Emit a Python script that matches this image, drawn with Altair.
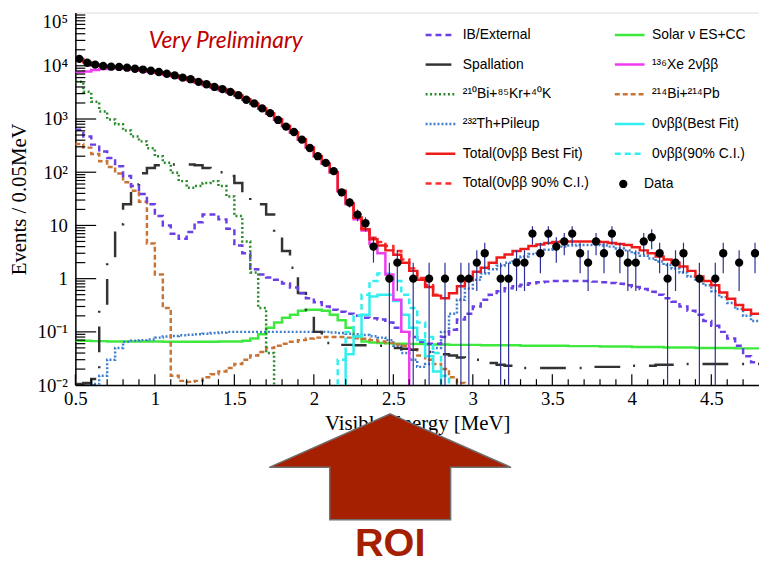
import math
import altair as alt
import pandas as pd

# ---------------------------------------------------------------- data
BIN = 0.05          # MeV per histogram bin
E_MIN, E_MAX = 0.5, 4.8
TINY = 1e-4         # used for drops to the bottom of the log axis

# observed counts per 0.05 MeV bin, bins starting at 0.50 MeV (0 = empty)
data_counts = [13500, 11400, 10500, 9900, 9600, 9500, 9200, 8800, 8500, 8070,
               7640, 7080, 6600, 6000, 5590, 5000, 4500, 4000, 3650, 3240,
               2800, 2300, 1960, 1580, 1290, 960, 720, 570, 410, 285,
               200, 150, 105, 42, 27, 16, 11, 4, 0, 1,
               2, 0, 1, 0, 1, 0, 1, 0, 1, 1,
               2, 3, 0, 1, 1, 2, 2, 7, 3, 7,
               4, 5, 7, 3, 2, 5, 3, 7, 3, 2,
               2, 5, 6, 3, 1, 2, 3, 0, 1, 0,
               1, 3, 0, 2, 0, 3]

total_best = [13400, 11600, 10600, 10000, 9700, 9500, 9200, 8850, 8500, 8100,
              7650, 7100, 6600, 6050, 5550, 5000, 4500, 4050, 3650, 3250,
              2800, 2350, 1950, 1580, 1270, 980, 740, 560, 410, 290,
              200, 145, 100, 45, 26, 14, 8.5, 5.5, 4.2, 3.4,
              2.8, 2.0, 1.4, 0.95, 0.7, 0.48, 0.43, 0.53, 0.72, 0.95,
              1.35, 1.6, 2.0, 2.5, 2.85, 3.3, 3.6, 4.1, 4.4, 4.7,
              4.9, 5.0, 5.0, 5.0, 5.0, 5.0, 4.9, 4.7, 4.5, 4.3,
              3.9, 3.4, 3.0, 2.6, 2.3, 2.0, 1.7, 1.4, 1.1, 0.9,
              0.75, 0.55, 0.42, 0.32, 0.26, 0.22]

total_ci90 = [26.1, 14.1, 8.8, 5.9, 4.9, 4.1, 3.3, 2.3, 1.56, 1.03, 0.75, 0.5]   # from 2.20

xe2nbb = [7600, 7800, 8300, 8700, 8900, 9000, 8800, 8500, 8100, 7700,
          7300, 6800, 6350, 5850, 5350, 4800, 4300, 3870, 3480, 3120,
          2720, 2300, 1920, 1550, 1250, 970, 735, 558, 409, 290,
          200, 145, 100, 44, 25, 13, 8, 4.5, 3.0, 1.2,
          0.4, 0.1]                                                     # from 0.50

nbb0_best = [0.038, 0.082, 0.21, 0.46, 0.5, 0.5, 0.38, 0.21, 0.12, 0.07, 0.035, 0.018]   # from 2.20
nbb0_ci90 = [0.03, 0.1, 0.2, 0.5, 0.9, 1.25, 1.25, 0.9, 0.5, 0.28, 0.15, 0.08, 0.04, 0.015]  # from 2.15

ib_external = [630, 470, 330, 245, 185, 130, 85, 55, 39, 25,
               15, 10, 7, 5.6, 7.5, 11.5, 16, 16, 13, 8.7,
               4.2, 3.0, 1.5, 1.2, 1.05, 0.95, 0.81, 0.68, 0.53, 0.43,
               0.36, 0.3, 0.26, 0.24, 0.22, 0.2, 0.185, 0.18, 0.17, 0.15,
               0.12, 0.1, 0.08, 0.065, 0.06, 0.06, 0.08, 0.11, 0.17, 0.22,
               0.3, 0.4, 0.5, 0.58, 0.66, 0.72, 0.77, 0.82, 0.86, 0.88,
               0.9, 0.9, 0.9, 0.9, 0.9, 0.88, 0.86, 0.83, 0.8, 0.75,
               0.7, 0.64, 0.57, 0.5, 0.43, 0.37, 0.3, 0.25, 0.21, 0.16,
               0.13, 0.1, 0.075, 0.055, 0.035, 0.027]

bi_kr_k = [5000, 3240, 2100, 1390, 980, 800, 610, 470, 380, 283,
           200, 150, 98, 68, 51, 55, 63, 68, 55, 35,
           15, 5, 1.3, 0.28, 0.04]                                      # from 0.50

bi_pb = [340, 290, 220, 160, 125, 95, 65, 45, 28, 4.6,
         1.2, 0.28, 0.015, 0.012, 0.0115, 0.012, 0.014, 0.016, 0.018, 0.021,
         0.025, 0.03, 0.036, 0.042, 0.05, 0.055, 0.06, 0.065, 0.07, 0.075,
         0.078, 0.08, 0.08, 0.08, 0.078, 0.076, 0.074, 0.07, 0.066, 0.062,
         0.058, 0.055, 0.047, 0.036, 0.03, 0.025, 0.02, 0.014, 0.011]    # from 0.50

th_pileup = [0.0105, 0.015, 0.03, 0.05, 0.065, 0.068, 0.07, 0.072, 0.078, 0.082,
             0.084, 0.086, 0.088, 0.09, 0.092, 0.095, 0.097, 0.1, 0.1, 0.1,
             0.1, 0.1, 0.1, 0.1, 0.1, 0.1, 0.1, 0.1, 0.1, 0.1,
             0.097, 0.095, 0.092, 0.09, 0.087, 0.083, 0.078, 0.07, 0.055, 0.04,
             0.03, 0.022, 0.025, 0.05, 0.1, 0.22, 0.4, 0.65, 0.95, 1.25,
             1.5, 1.75, 2.0, 2.3, 2.6, 2.9, 3.2, 3.5, 3.8, 4.0,
             4.2, 4.3, 4.3, 4.3, 4.2, 4.0, 3.7, 3.4, 3.0, 2.7,
             2.4, 2.1, 1.8, 1.55, 1.3, 1.1, 0.9, 0.75, 0.58, 0.45,
             0.35, 0.27, 0.2, 0.16]                                       # from 0.60

solar = [0.068, 0.068, 0.067, 0.067, 0.066, 0.066, 0.066, 0.066, 0.066, 0.066,
         0.066, 0.065, 0.065, 0.065, 0.065, 0.065, 0.065, 0.065, 0.066, 0.066,
         0.066, 0.068, 0.075, 0.09, 0.12, 0.15, 0.185, 0.21, 0.25, 0.26,
         0.26, 0.25, 0.21, 0.165, 0.12, 0.082, 0.066, 0.063, 0.062, 0.061,
         0.06, 0.06, 0.059, 0.059, 0.058, 0.058, 0.058, 0.057, 0.057, 0.057,
         0.057, 0.056, 0.056, 0.056, 0.056, 0.056, 0.055, 0.055, 0.055, 0.055,
         0.055, 0.055, 0.054, 0.054, 0.054, 0.054, 0.053, 0.053, 0.053, 0.053,
         0.052, 0.052, 0.052, 0.052, 0.051, 0.051, 0.051, 0.051, 0.05, 0.05,
         0.05, 0.05, 0.05, 0.049, 0.049, 0.049]

spallation = [0.0105, 0.011, 0.013, 0.3, 2.5, 10.5, 25, 59, 96, 120,
              135, 140, 140, 140, 140, 135, 120, 100, 100, 85,
              63, 40, 30, 25, 16, 7, 3.3, 1.6, 0.54, 0.2,
              0.1, 0.062, 0.058, 0.057, 0.057, 0.056, 0.056, 0.055, 0.055, 0.053,
              0.05, 0.048, 0.046, 0.044, 0.042, 0.04, 0.038, 0.036, 0.033, 0.031,
              0.03, 0.028, 0.026, 0.024, 0.023, 0.022, 0.021, 0.021, 0.021, 0.021,
              0.021, 0.021, 0.021, 0.021, 0.021, 0.022, 0.022, 0.022, 0.022, 0.023,
              0.023, 0.023, 0.023, 0.024, 0.024, 0.024, 0.025, 0.025, 0.025, 0.025,
              0.025, 0.025, 0.025, 0.025, 0.025, 0.025]

# legend order (column-major, two columns)
legend_names = ["IB/External", "Spallation", "²¹⁰Bi+⁸⁵Kr+⁴⁰K", "²³²Th+Pileup",
                "Total(0νββ Best Fit)", "Total(0νββ 90% C.I.)",
                "Solar ν  ES+CC", "¹³⁶Xe 2νββ", "²¹⁴Bi+²¹⁴Pb",
                "0νββ(Best Fit)", "0νββ(90% C.I.)"]
legend_colors = ["#6b3fe6", "#333333", "#2b8a2b", "#3f7ecc", "#ee1b1b", "#ff2a2a",
                 "#3fe83f", "#f03cf0", "#c87436", "#33eeee", "#33eeee"]
legend_dashes = [[6, 4], [26, 14, 2, 14], [2, 2.5], [2, 2], [1, 0], [6, 4],
                 [1, 0], [1, 0], [5, 3], [1, 0], [6, 4]]
legend_widths = [2.5, 2.5, 2.5, 2.5, 4, 3, 2, 3.5, 2.5, 3, 3]

# (series, first bin edge, values, rises from bottom, drops to bottom) in drawing order
series_defs = [
    ("Solar ν  ES+CC", 0.50, solar, False, False),
    ("²³²Th+Pileup", 0.60, th_pileup, True, False),
    ("²¹⁴Bi+²¹⁴Pb", 0.50, bi_pb, False, True),
    ("Spallation", 0.50, spallation, False, False),
    ("IB/External", 0.50, ib_external, False, False),
    ("²¹⁰Bi+⁸⁵Kr+⁴⁰K", 0.50, bi_kr_k, False, True),
    ("0νββ(90% C.I.)", 2.15, nbb0_ci90, True, True),
    ("0νββ(Best Fit)", 2.20, nbb0_best, True, True),
    ("¹³⁶Xe 2νββ", 0.50, xe2nbb, False, True),
    ("Total(0νββ 90% C.I.)", 2.20, total_ci90, False, False),
    ("Total(0νββ Best Fit)", 0.50, total_best, False, False),
]

rows = []
for name, start, vals, rise, fall in series_defs:
    pts = []
    if rise:
        pts.append((start, TINY))
    for i, v in enumerate(vals):
        pts.append((round(start + i * BIN, 4), v))
    end = round(start + len(vals) * BIN, 4)
    pts.append((end, vals[-1]))
    if fall:
        pts.append((end, TINY))
    for k, (e, v) in enumerate(pts):
        rows.append({"series": name, "e": e, "v": v, "k": k})
line_df = pd.DataFrame(rows)

pts_rows = []
for i, n in enumerate(data_counts):
    if n > 0:
        err = math.sqrt(n)
        pts_rows.append({"e": round(E_MIN + (i + 0.5) * BIN, 4), "v": n,
                         "lo": max(n - err, TINY), "hi": n + err, "kind": "Data"})
pts_df = pd.DataFrame(pts_rows)

# axis ticks (ROOT style, drawn inside the frame)
x_major = [0.5, 1.0, 1.5, 2.0, 2.5, 3.0, 3.5, 4.0, 4.5]
x_minor = [round(0.5 + 0.1 * i, 2) for i in range(1, 43) if i % 5 != 0]
y_labels = [0.01, 0.1, 1, 10, 100, 1000, 10000, 100000]
y_major = [0.01, 0.1, 1, 10, 100, 1000, 10000]
y_minor = [m * 10.0 ** d for d in range(-2, 5) for m in range(2, 10)]

roi_energy = [2.48]
roi_label = ["ROI"]
note_text = ["Very Preliminary"]

# ---------------------------------------------------------------- chart
PW, PH = 690, 376
SERIF = "Liberation Serif"
SANS = "Liberation Sans"
XT = "Visible Energy [MeV]"
YT = "Events / 0.05MeV"

xscale = alt.Scale(domain=[E_MIN, E_MAX], nice=False, zero=False)
yscale = alt.Scale(type="log", domain=[0.01, 100000], nice=False, clamp=True)

y_label_expr = ("datum.value < 0.05 ? '10⁻²' : datum.value < 0.5 ? '10⁻¹' : "
                "datum.value < 5 ? '1' : datum.value < 50 ? '10' : "
                "datum.value < 500 ? '10²' : datum.value < 5000 ? '10³' : "
                "datum.value < 50000 ? '10⁴' : '10⁵'")


def X(field):
    return alt.X(field, title=XT)


def Y(field):
    return alt.Y(field, title=YT)


line_legend = alt.Legend(orient="none", legendX=352, legendY=6, columns=2,
                         symbolType="stroke", symbolSize=900, symbolOpacity=1,
                         labelFont=SANS, labelFontSize=14, labelColor="black",
                         labelOffset=6, labelLimit=300, columnPadding=20,
                         rowPadding=6, padding=0)

lines = alt.Chart(line_df).mark_line(interpolate="step-after", clip=True).encode(
    x=alt.X("e:Q", scale=xscale, title=XT,
            axis=alt.Axis(values=x_major, format="~g", labelFlush=False,
                          ticks=False, grid=False, labelFont=SERIF, labelFontSize=19,
                          labelPadding=5, titleFont=SERIF, titleFontSize=21,
                          titlePadding=4, labelColor="black", titleColor="black",
                          titleFontWeight="normal", domainColor="black", domainWidth=1.5)),
    y=alt.Y("v:Q", scale=yscale, title=YT,
            axis=alt.Axis(values=y_labels, labelExpr=y_label_expr,
                          ticks=False, grid=False,
                          labelFont=SERIF, labelFontSize=19, labelPadding=8,
                          titleFont=SERIF, titleFontSize=21, titlePadding=8,
                          labelColor="black", titleColor="black",
                          titleFontWeight="normal", domainColor="black", domainWidth=1.5,
                          labelBaseline={"condition": {"test": "datum.value > 50000",
                                                       "value": "top"},
                                         "value": "middle"})),
    color=alt.Color("series:N", title=None,
                    scale=alt.Scale(domain=legend_names, range=legend_colors),
                    legend=line_legend),
    strokeDash=alt.StrokeDash("series:N", title=None,
                              scale=alt.Scale(domain=legend_names, range=legend_dashes),
                              legend=line_legend),
    strokeWidth=alt.StrokeWidth("series:N", title=None,
                                scale=alt.Scale(domain=legend_names, range=legend_widths),
                                legend=line_legend),
    order=alt.Order("k:Q"),
)

errbars = alt.Chart(pts_df).mark_rule(color="#2b2f96", strokeWidth=1.2, clip=True).encode(
    x=X("e:Q"), y=Y("lo:Q"), y2="hi:Q")

points = alt.Chart(pts_df).mark_point(filled=True, size=70, color="black", opacity=1).encode(
    x=X("e:Q"), y=Y("v:Q"),
    shape=alt.Shape("kind:N", title=None,
                    scale=alt.Scale(domain=["Data"], range=["circle"]),
                    legend=alt.Legend(orient="none", legendX=546, legendY=166,
                                      symbolSize=70, symbolFillColor="black",
                                      symbolStrokeColor="black", labelFont=SANS,
                                      labelFontSize=14, labelColor="black",
                                      labelOffset=14, padding=0)))

ytick_major = alt.Chart(pd.DataFrame({"v": y_major})).mark_rule(color="black", strokeWidth=1.2).encode(
    y=Y("v:Q"), x=alt.value(0), x2=alt.value(21))
ytick_minor = alt.Chart(pd.DataFrame({"v": y_minor})).mark_rule(color="black", strokeWidth=1.2).encode(
    y=Y("v:Q"), x=alt.value(0), x2=alt.value(10))
xtick_major = alt.Chart(pd.DataFrame({"e": x_major})).mark_rule(color="black", strokeWidth=1.2).encode(
    x=X("e:Q"), y=alt.value(PH), y2=alt.value(PH - 11))
xtick_minor = alt.Chart(pd.DataFrame({"e": x_minor})).mark_rule(color="black", strokeWidth=1.2).encode(
    x=X("e:Q"), y=alt.value(PH), y2=alt.value(PH - 6))

ARROW = "M0,-0.4385L1,0.004L0.5,0.004L0.5,0.4385L-0.5,0.4385L-0.5,0.004L-1,0.004Z"
arrow = alt.Chart(pd.DataFrame({"e": roi_energy})).mark_point(
    shape=ARROW, size=244 * 244, filled=True, color="#a52000", stroke="#707070",
    strokeWidth=1.5, opacity=1).encode(x=X("e:Q"), y=alt.value(458.5))

roi = alt.Chart(pd.DataFrame({"e": roi_energy, "t": roi_label})).mark_text(
    font=SANS, fontWeight="bold", fontSize=40, color="#a52000", align="center",
    baseline="alphabetic").encode(x=X("e:Q"), y=alt.value(548), text="t:N")

note = alt.Chart(pd.DataFrame({"t": note_text})).mark_text(
    font="Lato", fontStyle="italic", fontSize=23, color="#c00000", align="left",
    baseline="alphabetic").encode(x=alt.value(74), y=alt.value(36), text="t:N")

chart = alt.layer(lines, errbars, points, ytick_major, ytick_minor, xtick_major,
                  xtick_minor, arrow, roi, note).properties(
    width=PW, height=PH,
    padding={"left": 68, "top": 2, "right": 0, "bottom": 182},
    autosize=alt.AutoSizeParams(type="none"),
    background="white",
).configure_view(stroke="#dddddd", strokeWidth=1)

chart.save("out.html", embed_options={"renderer": "svg", "actions": False})
